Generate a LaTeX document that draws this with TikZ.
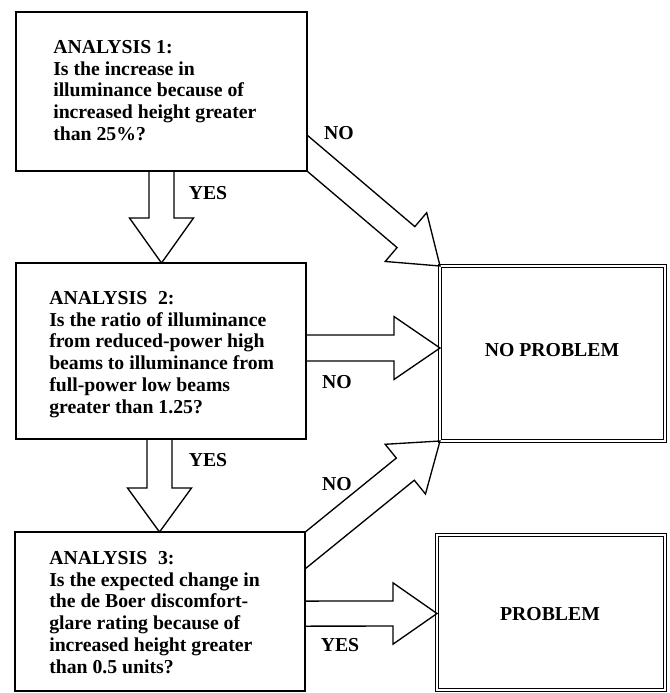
\documentclass[tikz,border=0pt]{standalone}
\usepackage{fontspec}
\setmainfont{Liberation Serif}
\usetikzlibrary{calc}
\newcommand\blockarr[7]{%
  % #1 shaft centre at start, #2 tip, #3 shaft half width, #4 head half width,
  % #5 head length, #6--#7 edge of the source box
  \coordinate (ba-b) at ($(#2)!#5!(#1)$);
  \coordinate (ba-p1) at ($(ba-b)!#3!90:(#2)$);
  \coordinate (ba-p2) at ($(ba-b)!#3!-90:(#2)$);
  \coordinate (ba-h1) at ($(ba-b)!#4!90:(#2)$);
  \coordinate (ba-h2) at ($(ba-b)!#4!-90:(#2)$);
  \coordinate (ba-q1) at ($(#1)!#3!90:(#2)$);
  \coordinate (ba-q2) at ($(#1)!#3!-90:(#2)$);
  \coordinate (ba-e1) at (#6);
  \coordinate (ba-e2) at (#7);
  \draw[arrowline] (intersection of ba-q1--ba-p1 and ba-e1--ba-e2) -- (ba-p1) -- (ba-h1)
    -- (#2) -- (ba-h2) -- (ba-p2) -- (intersection of ba-q2--ba-p2 and ba-e1--ba-e2);
}
\begin{document}
\begin{tikzpicture}[x=0.75pt,y=-0.75pt,
  box/.style={draw, line width=1.2pt, inner sep=0pt, outer sep=0pt},
  endbox/.style={draw, double, line width=1.1pt, double distance=1.4pt, inner sep=0pt, outer sep=0pt},
  boxtext/.style={anchor=north west, inner sep=0pt, align=left,
    font=\fontsize{14.8}{16.3}\selectfont\bfseries},
  lbl/.style={inner sep=0pt, font=\fontsize{14.8}{16.3}\selectfont\bfseries},
  arrowline/.style={line width=1pt, line join=miter}]
\fill[white] (0,0) rectangle (669,693);
\useasboundingbox (0,0) rectangle (669,693);

% boxes
\node[box, minimum width=218.25pt, minimum height=119.25pt] (a1) at (161.5,91.5) {};
\node[box, minimum width=217.5pt, minimum height=132pt] (a2) at (161,351) {};
\node[box, minimum width=217.5pt, minimum height=119.25pt] (a3) at (160,611.5) {};
\node[endbox, minimum width=168.75pt, minimum height=131.25pt] (np) at (552.5,353.5) {};
\node[endbox, minimum width=171pt, minimum height=116.25pt] (pr) at (551,612.5) {};

% texts
\node[boxtext] (t1) at (53,40) {ANALYSIS 1:\\Is the increase in\\illuminance because of\\increased height greater\\than 25\%?};
\node[boxtext] (t2) at (49,291) {ANALYSIS\hspace{0.55em}2:\\Is the ratio of illuminance\\from reduced-power high\\beams to illuminance from\\full-power low beams\\greater than 1.25?};
\node[boxtext] (t3) at (49,551) {ANALYSIS\hspace{0.55em}3:\\Is the expected change in\\the de Boer discomfort-\\glare rating because of\\increased height greater\\than 0.5 units?};
\node[lbl] (npt) at (552,350) {NO PROBLEM};
\node[lbl] (prt) at (550,614) {PROBLEM};

% block arrows
\coordinate (s1) at ($(a1.south)+(0,0)$);
\blockarr{s1}{s1 |- a2.north}{9.4pt}{24pt}{33.75pt}{a1.south west}{a1.south east}
\coordinate (s2) at ($(a2.south)+(-1.5,0)$);
\blockarr{s2}{s2 |- a3.north}{9.4pt}{24pt}{33pt}{a2.south west}{a2.south east}
\coordinate (s3) at ($(a2.east)+(0,-3)$);
\blockarr{s3}{np.west |- s3}{9.7pt}{23.6pt}{34.5pt}{a2.north east}{a2.south east}
\coordinate (s4) at ($(a3.east)+(0,2)$);
\blockarr{s4}{pr.west |- s4}{9.4pt}{23pt}{33pt}{a3.north east}{a3.south east}
\coordinate (s5) at ($(a1.south east)+(0,-18)$);
\blockarr{s5}{np.north west}{10.3pt}{24pt}{33.5pt}{a1.north east}{a1.south east}
\coordinate (s6) at ($(a3.north east)+(0,18.5)$);
\blockarr{s6}{np.south west}{10.7pt}{24pt}{33.5pt}{a3.north east}{a3.south east}

% branch labels
\node[lbl] (no1) at (339,133) {NO};
\node[lbl] (yes1) at (208,193) {YES};
\node[lbl] (no2) at (337,382) {NO};
\node[lbl] (yes2) at (208,460) {YES};
\node[lbl] (no3) at (337,484) {NO};
\node[lbl] (yes3) at (340,645) {YES};
\end{tikzpicture}
\end{document}
